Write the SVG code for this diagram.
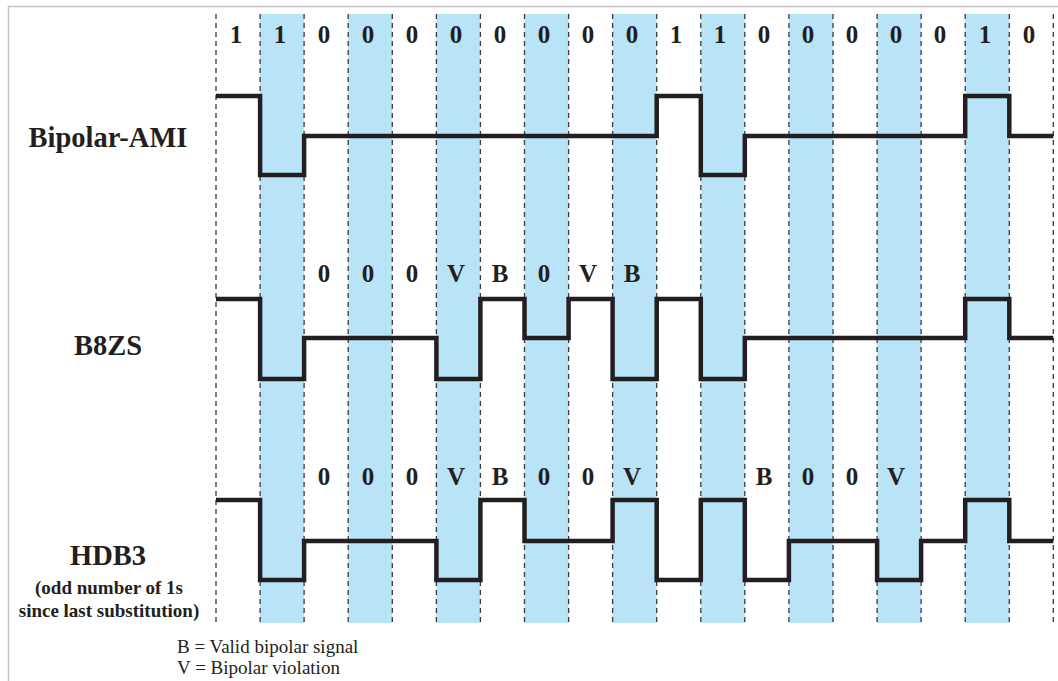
<svg xmlns="http://www.w3.org/2000/svg" width="1058" height="681" viewBox="0 0 1058 681">
<style>
.band{fill:#b9e4f8}
.grid{stroke:#3a3a3a;stroke-width:1.3;stroke-dasharray:5 4;fill:none}
.wave{fill:none;stroke:#231f20;stroke-width:4.5;stroke-linejoin:miter;stroke-linecap:butt}
.bit{font-family:"Liberation Serif","Times New Roman",serif;font-weight:bold;font-size:25px;fill:#231f20;text-anchor:middle}
.name{font-family:"Liberation Serif","Times New Roman",serif;font-weight:bold;font-size:28.5px;fill:#231f20;text-anchor:middle}
.note{font-family:"Liberation Serif","Times New Roman",serif;font-weight:bold;font-size:19px;fill:#231f20;text-anchor:middle}
.legend{font-family:"Liberation Serif","Times New Roman",serif;font-size:19px;fill:#231f20}
</style>
<rect width="1058" height="681" fill="#ffffff"/>
<g id="frame" stroke="#c4c4c4" stroke-width="1.5" fill="none">
<path d="M8.5,681 V6.5 H1058"/>
</g>
<g id="bands">
<rect class="band" x="260.1" y="14" width="44" height="609"/>
<rect class="band" x="348.2" y="14" width="44.1" height="609"/>
<rect class="band" x="436.4" y="14" width="44" height="609"/>
<rect class="band" x="524.5" y="14" width="44.1" height="609"/>
<rect class="band" x="612.6" y="14" width="44.1" height="609"/>
<rect class="band" x="700.8" y="14" width="44" height="609"/>
<rect class="band" x="788.9" y="14" width="44.1" height="609"/>
<rect class="band" x="877.1" y="14" width="44" height="609"/>
<rect class="band" x="965.2" y="14" width="44.1" height="609"/>
</g>
<g id="grid" class="grid">
<path d="M216,14V622M260.1,14V622M304.1,14V622M348.2,14V622M392.3,14V622M436.4,14V622M480.4,14V622M524.5,14V622M568.6,14V622M612.6,14V622M656.7,14V622M700.8,14V622M744.8,14V622M788.9,14V622M833,14V622M877.1,14V622M921.1,14V622M965.2,14V622M1009.3,14V622M1053.3,14V622"/>
</g>
<g id="bits" class="bit">
<text x="236" y="43">1</text>
<text x="280" y="43">1</text>
<text x="324" y="43">0</text>
<text x="368" y="43">0</text>
<text x="412" y="43">0</text>
<text x="456" y="43">0</text>
<text x="500" y="43">0</text>
<text x="544" y="43">0</text>
<text x="588" y="43">0</text>
<text x="632" y="43">0</text>
<text x="676" y="43">1</text>
<text x="720" y="43">1</text>
<text x="764" y="43">0</text>
<text x="808" y="43">0</text>
<text x="852" y="43">0</text>
<text x="896" y="43">0</text>
<text x="940" y="43">0</text>
<text x="985" y="43">1</text>
<text x="1029" y="43">0</text>
</g>
<g id="bipolar-ami">
<text class="name" x="108" y="147">Bipolar-AMI</text>
<path class="wave" d="M216,96 H260.1 V175 H304.1 V136 H656.7 V96 H700.8 V175 H744.8 V136 H965.2 V96 H1009.3 V136 H1053.3"/>
</g>
<g id="b8zs">
<text class="name" x="108" y="355">B8ZS</text>
<g class="bit">
<text x="324" y="282">0</text>
<text x="368" y="282">0</text>
<text x="412" y="282">0</text>
<text x="456" y="282">V</text>
<text x="500" y="282">B</text>
<text x="544" y="282">0</text>
<text x="588" y="282">V</text>
<text x="632" y="282">B</text>
</g>
<path class="wave" d="M216,299 H260.1 V379 H304.1 V338 H436.4 V379 H480.4 V299 H524.5 V338 H568.6 V299 H612.6 V379 H656.7 V299 H700.8 V379 H744.8 V338 H965.2 V299 H1009.3 V338 H1053.3"/>
</g>
<g id="hdb3">
<text class="name" x="108" y="565">HDB3</text>
<text class="note" x="109" y="594">(odd number of 1s</text>
<text class="note" x="109" y="617">since last substitution)</text>
<g class="bit">
<text x="324" y="485">0</text>
<text x="368" y="485">0</text>
<text x="412" y="485">0</text>
<text x="456" y="485">V</text>
<text x="500" y="485">B</text>
<text x="544" y="485">0</text>
<text x="588" y="485">0</text>
<text x="632" y="485">V</text>
<text x="764" y="485">B</text>
<text x="808" y="485">0</text>
<text x="852" y="485">0</text>
<text x="896" y="485">V</text>
</g>
<path class="wave" d="M216,500 H260.1 V580 H304.1 V541 H436.4 V580 H480.4 V500 H524.5 V541 H612.6 V500 H656.7 V580 H700.8 V500 H744.8 V580 H788.9 V541 H877.1 V580 H921.1 V541 H965.2 V500 H1009.3 V541 H1053.3"/>
</g>
<g id="legend" class="legend">
<text x="177" y="653">B = Valid bipolar signal</text>
<text x="177" y="674">V = Bipolar violation</text>
</g>
</svg>
